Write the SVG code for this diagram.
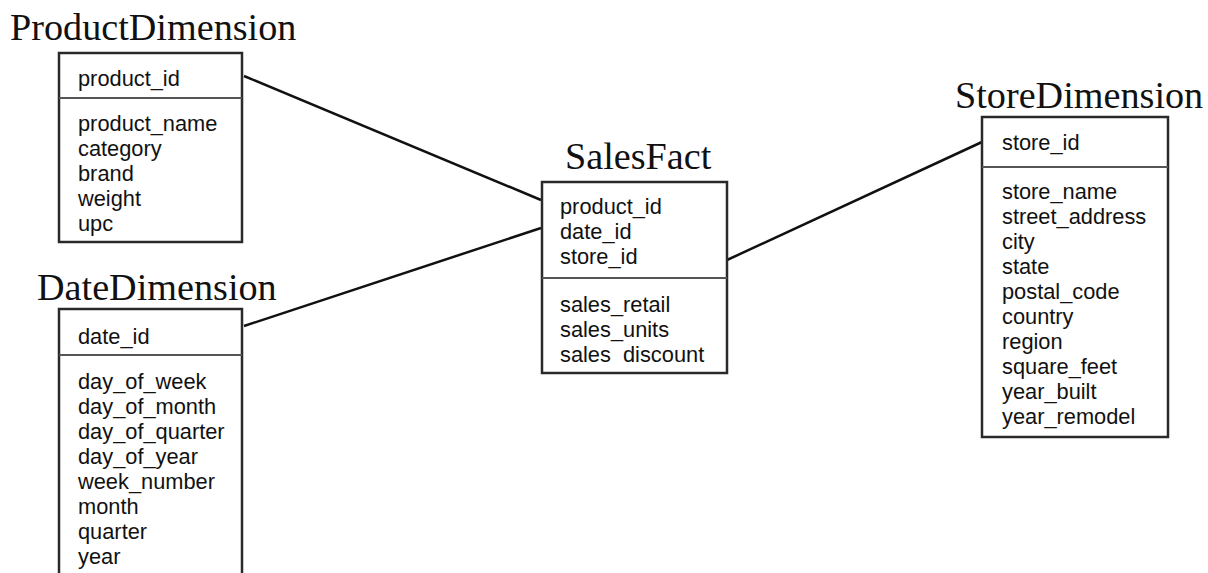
<svg xmlns="http://www.w3.org/2000/svg" width="1208" height="573" viewBox="0 0 1208 573">
  <style>
    .title { font-family: "Liberation Serif", "Times New Roman", serif; font-size: 38.2px; fill: #111; }
    .attr { font-family: "Liberation Sans", Arial, sans-serif; font-size: 21.8px; fill: #111; }
    .box { fill: #fff; stroke: #2a2a2a; stroke-width: 2.5; }
    .sep { stroke: #555; stroke-width: 2; }
    .link { stroke: #111; stroke-width: 2.5; fill: none; }
  </style>
  <rect width="1208" height="573" fill="#fff"/>

  <!-- relationship lines between fact and dimension tables -->
  <g id="connectors">
    <line class="link" x1="244" y1="76" x2="541" y2="200"/>
    <line class="link" x1="244" y1="326" x2="541" y2="228"/>
    <line class="link" x1="727" y1="260" x2="982" y2="142"/>
  </g>

  <g id="ProductDimension">
    <text class="title" x="10" y="40">ProductDimension</text>
    <rect class="box" x="59" y="53" width="183" height="189"/>
    <line class="sep" x1="59" y1="98" x2="242" y2="98"/>
    <text class="attr" x="78" y="86">product_id</text>
    <text class="attr" x="78" y="131">product_name</text>
    <text class="attr" x="78" y="156">category</text>
    <text class="attr" x="78" y="181">brand</text>
    <text class="attr" x="78" y="206">weight</text>
    <text class="attr" x="78" y="231">upc</text>
  </g>

  <g id="DateDimension">
    <text class="title" x="37" y="300">DateDimension</text>
    <rect class="box" x="59" y="309" width="183" height="280"/>
    <line class="sep" x1="59" y1="355" x2="242" y2="355"/>
    <text class="attr" x="78" y="344">date_id</text>
    <text class="attr" x="78" y="389">day_of_week</text>
    <text class="attr" x="78" y="414">day_of_month</text>
    <text class="attr" x="78" y="439">day_of_quarter</text>
    <text class="attr" x="78" y="464">day_of_year</text>
    <text class="attr" x="78" y="489">week_number</text>
    <text class="attr" x="78" y="514">month</text>
    <text class="attr" x="78" y="539">quarter</text>
    <text class="attr" x="78" y="564">year</text>
  </g>

  <g id="SalesFact">
    <text class="title" x="565" y="169">SalesFact</text>
    <rect class="box" x="542" y="182" width="185" height="191"/>
    <line class="sep" x1="542" y1="278" x2="727" y2="278"/>
    <text class="attr" x="560" y="214">product_id</text>
    <text class="attr" x="560" y="239">date_id</text>
    <text class="attr" x="560" y="264">store_id</text>
    <text class="attr" x="560" y="312">sales_retail</text>
    <text class="attr" x="560" y="337">sales_units</text>
    <text class="attr" x="560" y="362">sales&#160;&#160;discount</text>
  </g>

  <g id="StoreDimension">
    <text class="title" x="955" y="108">StoreDimension</text>
    <rect class="box" x="982" y="117" width="186" height="320"/>
    <line class="sep" x1="982" y1="167" x2="1168" y2="167"/>
    <text class="attr" x="1002" y="150">store_id</text>
    <text class="attr" x="1002" y="199">store_name</text>
    <text class="attr" x="1002" y="224">street_address</text>
    <text class="attr" x="1002" y="249">city</text>
    <text class="attr" x="1002" y="274">state</text>
    <text class="attr" x="1002" y="299">postal_code</text>
    <text class="attr" x="1002" y="324">country</text>
    <text class="attr" x="1002" y="349">region</text>
    <text class="attr" x="1002" y="374">square_feet</text>
    <text class="attr" x="1002" y="399">year_built</text>
    <text class="attr" x="1002" y="424">year_remodel</text>
  </g>
</svg>
